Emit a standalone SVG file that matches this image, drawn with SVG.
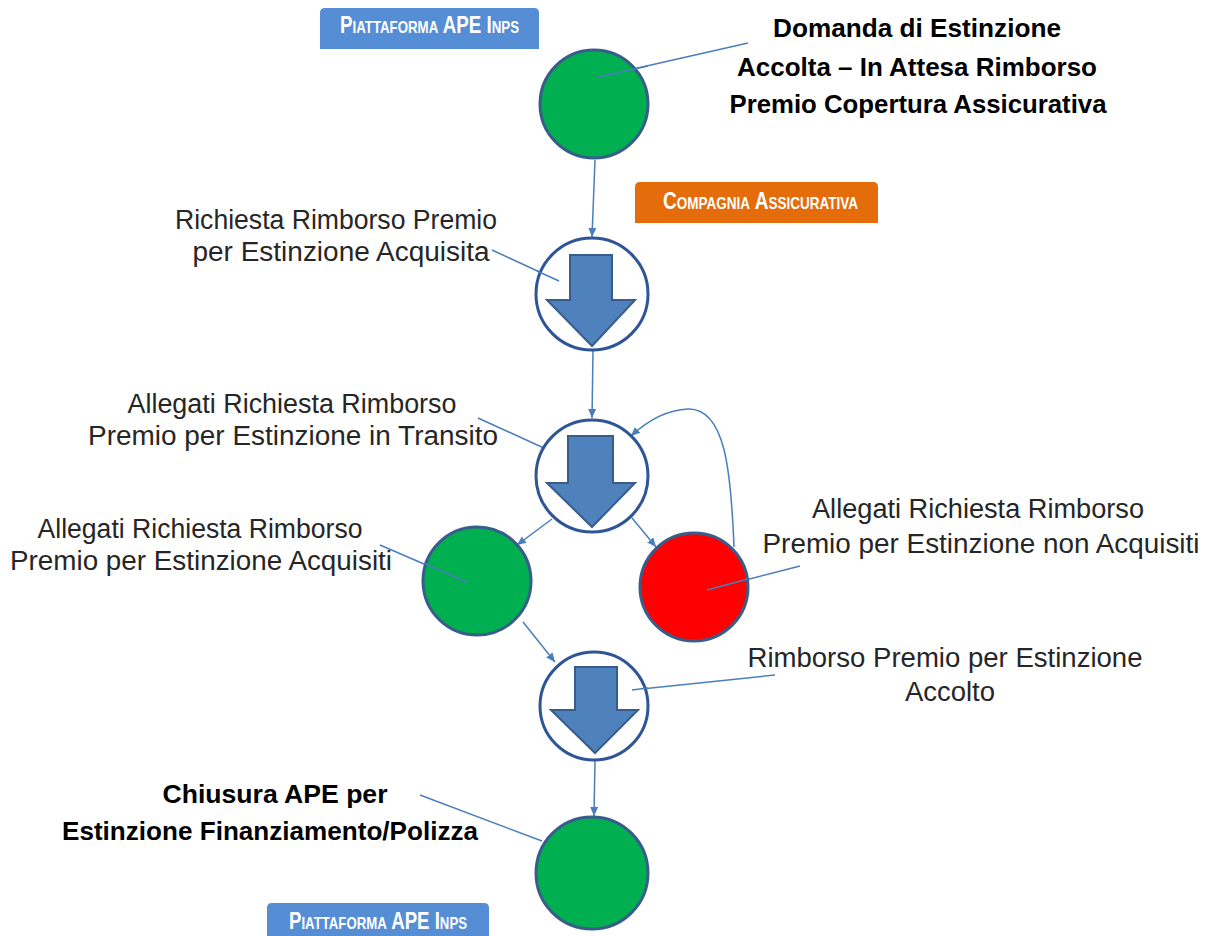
<svg xmlns="http://www.w3.org/2000/svg" width="1212" height="936" viewBox="0 0 1212 936">
<style>
.lbl{font-family:"Liberation Sans",Arial,sans-serif;font-size:27px;fill:#262626;text-anchor:middle}
.bold{font-family:"Liberation Sans",Arial,sans-serif;font-size:26px;font-weight:bold;fill:#000;text-anchor:middle}
.badge{font-family:"Liberation Sans",Arial,sans-serif;fill:#fff;font-weight:bold;font-size:24px;font-variant:small-caps}
.green{fill:#00B050;stroke:#385D8A;stroke-width:3}
.red{fill:#FF0000;stroke:#385D8A;stroke-width:3}
.ring{fill:#fff;stroke:#2F5597;stroke-width:3}
.arr{fill:#4F81BD;stroke:#385D8A;stroke-width:2;stroke-linejoin:miter}
.con{fill:none;stroke:#4A7EBB;stroke-width:1.5;marker-end:url(#ah)}
.lead{fill:none;stroke:#4A7EBB;stroke-width:1.5}
</style>
<defs>
<marker id="ah" markerWidth="10" markerHeight="10" refX="9" refY="5" orient="auto" markerUnits="userSpaceOnUse">
<path d="M0,1 L9,5 L0,9 Z" fill="#4A7EBB"/>
</marker>
</defs>
<rect width="1212" height="936" fill="#fff"/>

<g id="badge-top">
<path d="M320,49 V13 Q320,8 325,8 H534 Q539,8 539,13 V49 Z" fill="#558ED5"/>
<text class="badge" x="340" y="33" textLength="179" lengthAdjust="spacingAndGlyphs">Piattaforma APE Inps</text>
</g>
<g id="badge-compagnia">
<path d="M635,223 V187 Q635,182 640,182 H873 Q878,182 878,187 V223 Z" fill="#E46C0A"/>
<text class="badge" x="663" y="209" textLength="195" lengthAdjust="spacingAndGlyphs">Compagnia Assicurativa</text>
</g>
<g id="badge-bottom">
<path d="M267,940 V908 Q267,903 272,903 H484 Q489,903 489,908 V940 Z" fill="#558ED5"/>
<text class="badge" x="289" y="929" textLength="178" lengthAdjust="spacingAndGlyphs">Piattaforma APE Inps</text>
</g>

<g id="connectors">
<path class="con" d="M595,160 L592,237"/>
<path class="con" d="M593,351 L592,418"/>
<path class="con" d="M552,519 L517,545"/>
<path class="con" d="M632,518 L656,547"/>
<path class="con" d="M734,547 C731,470 725,408 688,409 C665,410 645,423 631,436"/>
<path class="con" d="M523,622 L555,662"/>
<path class="con" d="M595,760 L594,816"/>
<path class="lead" d="M598,77 L748,43"/>
<path class="lead" d="M492,250 L559,281"/>
<path class="lead" d="M478,418 L557,454"/>
<path class="lead" d="M380,545 L468,583"/>
<path class="lead" d="M707,590 L800,566"/>
<path class="lead" d="M632,690 L775,675"/>
<path class="lead" d="M420,795 L542,841"/>
</g>

<g id="n1">
<circle class="green" cx="594" cy="104" r="54"/>
<path class="lead" d="M598,77 L648,66"/>
</g>
<g id="n2">
<circle class="ring" cx="592" cy="294" r="56"/>
<polygon class="arr" points="570,255 612,255 612,300 635,300 592,346 547,300 570,300"/>
<path class="lead" d="M537,271 L559,281"/>
</g>
<g id="n3">
<circle class="ring" cx="592" cy="476" r="56"/>
<polygon class="arr" points="568,436 613,436 613,483 635,483 592,527 547,483 568,483"/>
</g>
<g id="n4">
<circle class="green" cx="477" cy="581" r="54"/>
<path class="lead" d="M424,563 L468,583"/>
</g>
<g id="n5">
<circle class="red" cx="694" cy="587" r="54"/>
<path class="lead" d="M707,590 L748,579"/>
</g>
<g id="n6">
<circle class="ring" cx="594" cy="706" r="54"/>
<polygon class="arr" points="575,667 617,667 617,710 638,710 595,753 551,710 575,710"/>
<path class="lead" d="M632,690 L648,688"/>
</g>
<g id="n7">
<circle class="green" cx="592" cy="873" r="56"/>
</g>

<g id="labels">
<text class="bold" x="917" y="37" textLength="288" lengthAdjust="spacingAndGlyphs">Domanda di Estinzione</text>
<text class="bold" x="917" y="76" textLength="360" lengthAdjust="spacingAndGlyphs">Accolta – In Attesa Rimborso</text>
<text class="bold" x="918" y="113" textLength="377" lengthAdjust="spacingAndGlyphs">Premio Copertura Assicurativa</text>

<text class="lbl" x="336" y="229" textLength="322" lengthAdjust="spacingAndGlyphs">Richiesta Rimborso Premio</text>
<text class="lbl" x="341" y="261" textLength="297" lengthAdjust="spacingAndGlyphs">per Estinzione Acquisita</text>

<text class="lbl" x="292" y="413" textLength="329" lengthAdjust="spacingAndGlyphs">Allegati Richiesta Rimborso</text>
<text class="lbl" x="293" y="445" textLength="410" lengthAdjust="spacingAndGlyphs">Premio per Estinzione in Transito</text>

<text class="lbl" x="200" y="538" textLength="325" lengthAdjust="spacingAndGlyphs">Allegati Richiesta Rimborso</text>
<text class="lbl" x="201" y="570" textLength="382" lengthAdjust="spacingAndGlyphs">Premio per Estinzione Acquisiti</text>

<text class="lbl" x="978" y="518" textLength="332" lengthAdjust="spacingAndGlyphs">Allegati Richiesta Rimborso</text>
<text class="lbl" x="981" y="553" textLength="437" lengthAdjust="spacingAndGlyphs">Premio per Estinzione non Acquisiti</text>

<text class="lbl" x="945" y="667" textLength="395" lengthAdjust="spacingAndGlyphs">Rimborso Premio per Estinzione</text>
<text class="lbl" x="950" y="701" textLength="90" lengthAdjust="spacingAndGlyphs">Accolto</text>

<text class="bold" x="275" y="803" textLength="225" lengthAdjust="spacingAndGlyphs">Chiusura APE per</text>
<text class="bold" x="270" y="840" textLength="416" lengthAdjust="spacingAndGlyphs">Estinzione Finanziamento/Polizza</text>
</g>
</svg>
